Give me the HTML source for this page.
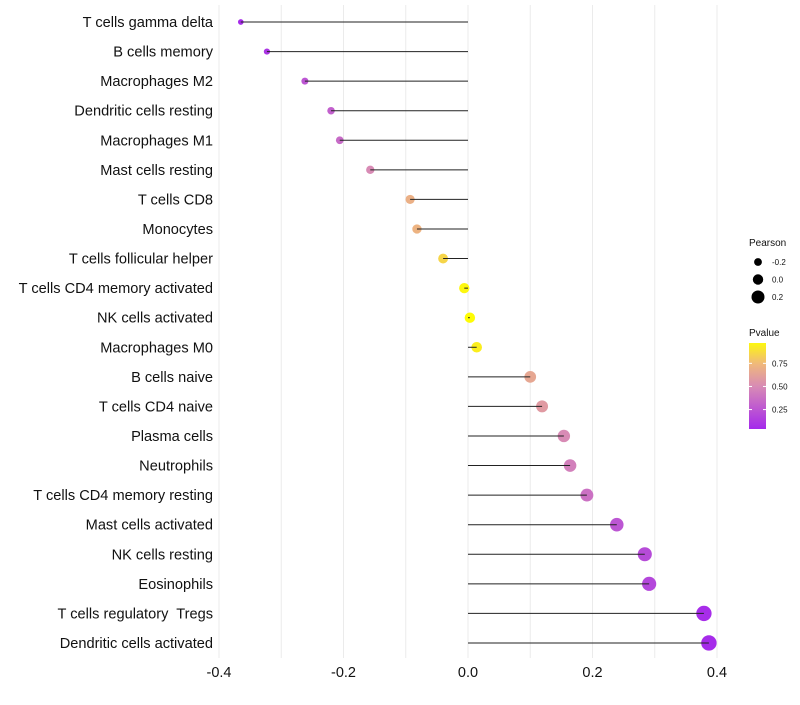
<!DOCTYPE html>
<html><head><meta charset="utf-8"><style>
body{margin:0;background:#fff;font-family:"Liberation Sans",sans-serif}
text{white-space:pre}
</style></head><body>
<svg id="c" width="800" height="700" xmlns="http://www.w3.org/2000/svg" font-family="Liberation Sans, sans-serif"></svg>
<script>
const categories=["T cells gamma delta","B cells memory","Macrophages M2","Dendritic cells resting","Macrophages M1","Mast cells resting","T cells CD8","Monocytes","T cells follicular helper","T cells CD4 memory activated","NK cells activated","Macrophages M0","B cells naive","T cells CD4 naive","Plasma cells","Neutrophils","T cells CD4 memory resting","Mast cells activated","NK cells resting","Eosinophils","T cells regulatory  Tregs","Dendritic cells activated"];
const pearson=[-0.365,-0.323,-0.262,-0.220,-0.206,-0.157,-0.093,-0.082,-0.040,-0.006,0.003,0.014,0.100,0.119,0.154,0.164,0.191,0.239,0.284,0.291,0.379,0.387];
const pvalues=[0.05,0.1,0.25,0.3,0.35,0.5,0.7,0.72,0.85,0.97,0.99,0.94,0.65,0.58,0.5,0.45,0.38,0.25,0.2,0.18,0.06,0.05];
const xTicks=[-0.4,-0.2,0.0,0.2,0.4];
const xTickLabels=["-0.4","-0.2","0.0","0.2","0.4"];
const sizeLegend=[-0.2,0.0,0.2];
const pLegend=[0.25,0.5,0.75];

const NS="http://www.w3.org/2000/svg";
const svg=document.getElementById('c');
const x=v=>468+v*622.5;
const y=i=>22+i*29.57;
const r=v=>5.2+6.5*v;
const stops=[[0,[160,32,240]],[0.5,[216,139,181]],[0.75,[240,185,122]],[1,[255,255,0]]];
function col(p){for(let k=1;k<stops.length;k++){if(p<=stops[k][0]){const a=stops[k-1],b=stops[k];const t=(p-a[0])/(b[0]-a[0]);const c=a[1].map((v,j)=>Math.round(v+(b[1][j]-v)*t));return `rgb(${c})`;}}return 'rgb(255,255,0)';}
function el(t,a,txt){const e=document.createElementNS(NS,t);for(const k in a)e.setAttribute(k,a[k]);if(txt!==undefined)e.textContent=txt;svg.appendChild(e);return e;}
[-0.4,-0.3,-0.2,-0.1,0,0.1,0.2,0.3,0.4].forEach(v=>{
 const g=el('line',{x1:x(v),x2:x(v),y1:5,y2:658,stroke:'#ebebeb','stroke-width':1});
 
 
});
xTicks.forEach((v,i)=>{
 const t=el('text',{x:x(v),y:677,'text-anchor':'middle','font-size':14.5,fill:'#111'},xTickLabels[i]);
 
 
});
categories.forEach((c,i)=>{
 const t=el('text',{x:213,y:y(i)+5,'text-anchor':'end','font-size':14.6,fill:'#111'},c);
 
 
 const d=el('circle',{cx:x(pearson[i]),cy:y(i),r:r(pearson[i]),fill:col(pvalues[i])});
 
 
 const l=el('line',{x1:x(0),x2:x(pearson[i]),y1:y(i),y2:y(i),stroke:'#222','stroke-width':1});
 
 
});
const lt=el('text',{x:749,y:246,'font-size':10,fill:'#111'},'Pearson');


sizeLegend.forEach((v,i)=>{
 const cy=262+i*17.5;
 const c=el('circle',{cx:758,cy:cy,r:r(v),fill:'#000'});
 
 
 const t=el('text',{x:772,y:cy+3,'font-size':8,fill:'#111'},v.toFixed(1));
 
 
});
const pt=el('text',{x:749,y:336,'font-size':10,fill:'#111'},'Pvalue');


const defs=el('defs',{});
const lg=document.createElementNS(NS,'linearGradient');lg.setAttribute('id','g');lg.setAttribute('x1','0');lg.setAttribute('y1','1');lg.setAttribute('x2','0');lg.setAttribute('y2','0');
defs.appendChild(lg);
const p0=0.04,p1=0.97;
for(let k=0;k<=20;k++){const p=p0+(p1-p0)*k/20;const s=document.createElementNS(NS,'stop');s.setAttribute('offset',k/20);s.setAttribute('stop-color',col(p));lg.appendChild(s);}
const bar=el('rect',{x:749,y:343,width:17,height:86,fill:'url(#g)'});


const py=p=>429-(p-p0)/(p1-p0)*86;
pLegend.forEach(p=>{
 el('line',{x1:749,x2:752,y1:py(p),y2:py(p),stroke:'#fff'});
 el('line',{x1:763,x2:766,y1:py(p),y2:py(p),stroke:'#fff'});
 const t=el('text',{x:772,y:py(p)+3,'font-size':8,fill:'#111'},p.toFixed(2));
 
 
});
</script>
</body></html>
